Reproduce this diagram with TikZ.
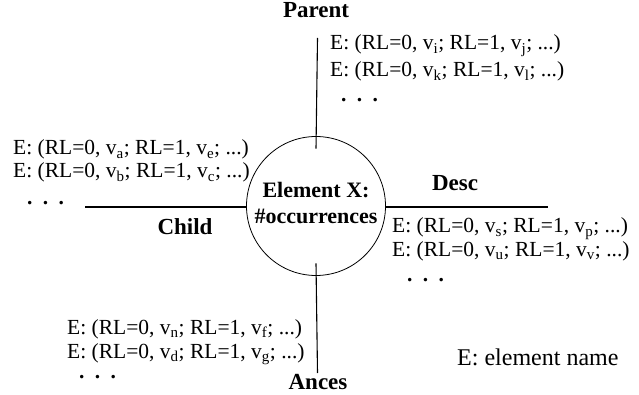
\documentclass[tikz,border=0pt]{standalone}
\usepackage{fontspec}
\setmainfont{Liberation Serif}
\newcommand{\rlpair}[2]{E: (RL=0, v\textsubscript{#1}; RL=1, v\textsubscript{#2}; ...)}
\newcommand{\threedots}{\bfseries .\hspace{10.4pt}.\hspace{10.4pt}.}
\begin{document}
\begin{tikzpicture}[x=1pt,y=-1pt,
  entry/.style={inner sep=0pt, anchor=base west, font=\fontsize{21.5}{24}\selectfont},
  axislabel/.style={inner sep=0pt, anchor=base, font=\fontsize{23}{26}\selectfont\bfseries},
  centretext/.style={inner sep=0pt, anchor=base, font=\fontsize{22}{26}\selectfont\bfseries},
  axisline/.style={line width=1.1pt},
]
\useasboundingbox (0,0) rectangle (639,395);
% central circle
\node[circle, draw, line width=0.8pt, minimum size=139pt, inner sep=0pt] (elem) at (316,206) {};
\node[centretext] (elemA) at (316,198) {Element X:};
\node[centretext] (elemB) at (316,224) {\#occurrences};
% axis ends
\coordinate (topend) at (317.5,38);
\coordinate (botend) at (317.5,373);
\coordinate (leftend) at (85,207);
\coordinate (rightend) at (548,207);
\draw[axisline] (topend) -- ([yshift=-12.5pt]elem.north);
\draw[axisline] ([yshift=12.5pt]elem.south) -- (botend);
\draw[axisline] (leftend) -- (leftend -| elem.west);
\draw[axisline] (elem.east |- rightend) -- (rightend);
% axis labels
\node[axislabel] (parent) at (316,18) {Parent};
\node[axislabel] (child) at (185,235) {Child};
\node[axislabel] (desc) at (455,191) {Desc};
\node[axislabel] (ances) at (318,389) {Ances};
% parent block
\node[entry] (p1) at (330,50) {\rlpair{i}{j}};
\node[entry] (p2) at (330,77) {\rlpair{k}{l}};
\node[entry] (p3) at (341,101.5) {\threedots};
% child block
\node[entry] (c1) at (13,155) {\rlpair{a}{e}};
\node[entry] (c2) at (13,178) {\rlpair{b}{c}};
\node[entry] (c3) at (27,204.5) {\threedots};
% desc block
\node[entry] (d1) at (392,233) {\rlpair{s}{p}};
\node[entry] (d2) at (392,256) {\rlpair{u}{v}};
\node[entry] (d3) at (407,281.5) {\threedots};
% ances block
\node[entry] (a1) at (67,334) {\rlpair{n}{f}};
\node[entry] (a2) at (67,358) {\rlpair{d}{g}};
\node[entry] (a3) at (79,378.5) {\threedots};
% legend
\node[entry, font=\fontsize{24}{26}\selectfont] (legend) at (457,365) {E: element name};
\end{tikzpicture}
\end{document}
